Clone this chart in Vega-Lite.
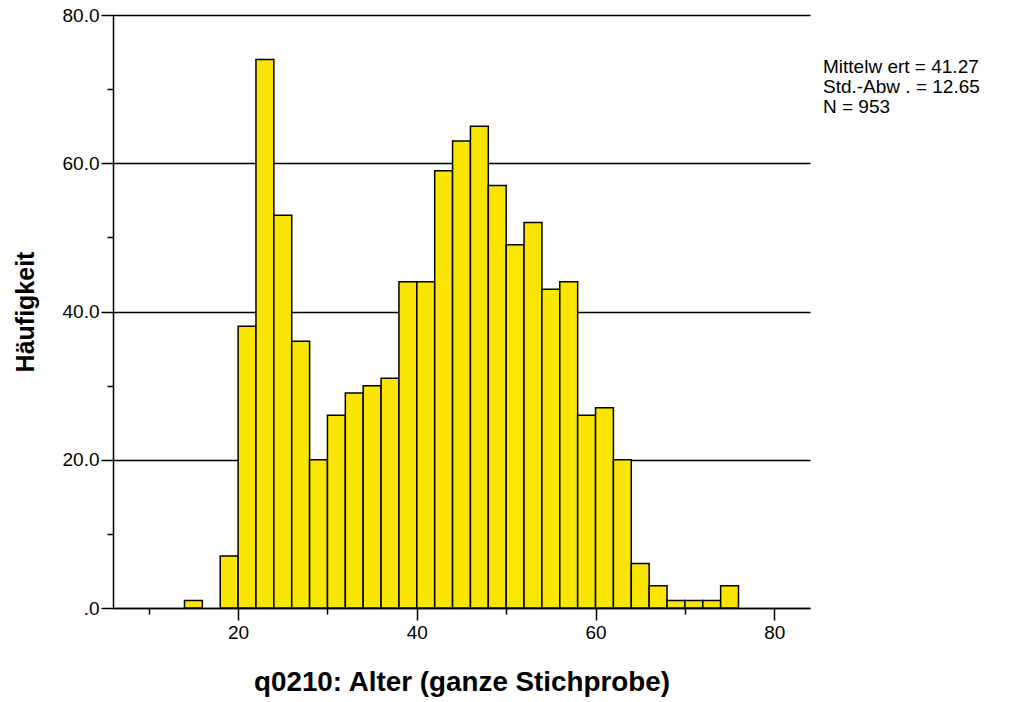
{
  "$schema": "https://vega.github.io/schema/vega-lite/v6.json",
  "autosize": "none",
  "padding": {"left": 113, "top": 15, "right": 201, "bottom": 94},
  "width": 697,
  "height": 593,
  "background": "white",
  "config": {
    "view": {"stroke": null},
    "font": "Liberation Sans",
    "axis": {
      "domainColor": "black",
      "domainWidth": 1.5,
      "tickColor": "black",
      "tickWidth": 1.5,
      "labelColor": "black",
      "titleColor": "black",
      "labelFont": "Liberation Sans",
      "titleFont": "Liberation Sans",
      "labelFontSize": 19,
      "titleFontSize": 25,
      "titleFontWeight": "bold"
    }
  },
  "data": {
    "values": [
      {"start": 14, "end": 16, "count": 1},
      {"start": 18, "end": 20, "count": 7},
      {"start": 20, "end": 22, "count": 38},
      {"start": 22, "end": 24, "count": 74},
      {"start": 24, "end": 26, "count": 53},
      {"start": 26, "end": 28, "count": 36},
      {"start": 28, "end": 30, "count": 20},
      {"start": 30, "end": 32, "count": 26},
      {"start": 32, "end": 34, "count": 29},
      {"start": 34, "end": 36, "count": 30},
      {"start": 36, "end": 38, "count": 31},
      {"start": 38, "end": 40, "count": 44},
      {"start": 40, "end": 42, "count": 44},
      {"start": 42, "end": 44, "count": 59},
      {"start": 44, "end": 46, "count": 63},
      {"start": 46, "end": 48, "count": 65},
      {"start": 48, "end": 50, "count": 57},
      {"start": 50, "end": 52, "count": 49},
      {"start": 52, "end": 54, "count": 52},
      {"start": 54, "end": 56, "count": 43},
      {"start": 56, "end": 58, "count": 44},
      {"start": 58, "end": 60, "count": 26},
      {"start": 60, "end": 62, "count": 27},
      {"start": 62, "end": 64, "count": 20},
      {"start": 64, "end": 66, "count": 6},
      {"start": 66, "end": 68, "count": 3},
      {"start": 68, "end": 70, "count": 1},
      {"start": 70, "end": 72, "count": 1},
      {"start": 72, "end": 74, "count": 1},
      {"start": 74, "end": 76, "count": 3}
    ]
  },
  "resolve": {"axis": {"x": "independent", "y": "independent"}},
  "layer": [
    {
      "mark": {"type": "bar", "opacity": 0},
      "encoding": {
        "x": {
          "field": "start", "type": "quantitative",
          "scale": {"domain": [6, 84], "nice": false, "zero": false},
          "axis": {"orient": "bottom", "values": [10, 30, 50, 70], "labels": false, "title": null, "tickSize": 6, "domain": false, "grid": false}
        },
        "x2": {"field": "end"},
        "y": {
          "field": "count", "type": "quantitative",
          "scale": {"domain": [0, 80], "nice": false},
          "axis": {"orient": "left", "values": [10, 30, 50, 70], "labels": false, "title": null, "tickSize": 6, "domain": false, "grid": false}
        },
        "y2": {"datum": 0}
      }
    },
    {
      "mark": {"type": "bar", "color": "#F9E500", "stroke": "black", "strokeWidth": 1.5},
      "encoding": {
        "x": {
          "field": "start", "type": "quantitative",
          "scale": {"domain": [6, 84], "nice": false, "zero": false},
          "axis": {"orient": "bottom", "values": [20, 40, 60, 80], "title": "q0210: Alter (ganze Stichprobe)", "titleFontSize": 27.8, "tickSize": 12, "labelPadding": 3, "titlePadding": 26, "grid": false, "format": "d"}
        },
        "x2": {"field": "end"},
        "y": {
          "field": "count", "type": "quantitative",
          "scale": {"domain": [0, 80], "nice": false},
          "axis": {"orient": "left", "values": [0, 20, 40, 60, 80], "title": "Häufigkeit", "tickSize": 12, "labelPadding": 2, "titlePadding": 24, "grid": true, "gridColor": "black", "gridWidth": 1.5, "gridOpacity": 1,
            "labelExpr": "datum.value == 0 ? '.0' : format(datum.value, '.1f')"}
        },
        "y2": {"datum": 0}
      }
    },
    {
      "data": {"values": [{"label": "Mittelw ert = 41.27\nStd.-Abw . = 12.65\nN = 953"}]},
      "mark": {"type": "text", "align": "left", "baseline": "alphabetic", "dx": 13, "dy": 58, "fontSize": 19, "lineHeight": 20, "lineBreak": "\n", "color": "black", "font": "Liberation Sans"},
      "encoding": {
        "x": {"datum": 84, "type": "quantitative", "axis": null},
        "y": {"datum": 80, "type": "quantitative", "axis": null},
        "text": {"field": "label"}
      }
    }
  ]
}
